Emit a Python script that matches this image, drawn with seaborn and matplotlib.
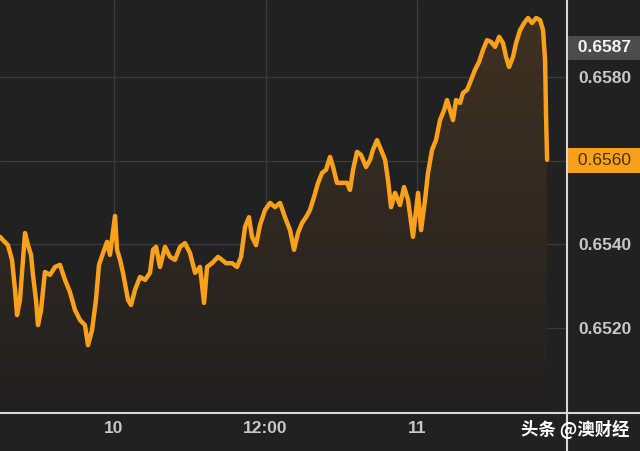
import numpy as np
import pandas as pd
import matplotlib.pyplot as plt
import seaborn as sns
from matplotlib.colors import LinearSegmentedColormap

# 时间(以10日0点为起点的小时数) 与 汇率
hours = [-9.03, -8.79, -8.40, -8.08, -7.84, -7.68, -7.45, -7.21, -7.05, -6.81,
         -6.57, -6.42, -6.18, -6.02, -5.78, -5.47, -5.07, -4.67, -4.28, -3.88,
         -3.49, -3.09, -2.69, -2.30, -2.06, -1.74, -1.43, -1.19, -0.87, -0.55,
         -0.32, 0.08, 0.24, 0.48, 0.71, 1.11, 1.35, 1.66, 2.06, 2.46,
         2.85, 3.09, 3.33, 3.64, 4.04, 4.44, 4.83, 5.23, 5.62, 6.02,
         6.42, 6.81, 7.13, 7.37, 7.76, 8.24, 8.55, 8.87, 9.35, 9.74,
         10.06, 10.38, 10.69, 10.93, 11.25, 11.56, 11.96, 12.36, 12.75, 13.15,
         13.54, 13.94, 14.26, 14.57, 14.89, 15.21, 15.52, 15.84, 16.16, 16.48,
         16.79, 17.11, 17.35, 17.66, 18.06, 18.46, 18.69, 18.93, 19.25, 19.56,
         19.96, 20.28, 20.51, 20.83, 21.15, 21.47, 21.70, 21.94, 22.26, 22.65,
         22.97, 23.29, 23.68, 24.08, 24.32, 24.63, 24.87, 25.19, 25.50, 25.82,
         26.14, 26.38, 26.61, 26.85, 27.09, 27.41, 27.64, 27.96, 28.28, 28.59,
         28.91, 29.23, 29.54, 29.86, 30.18, 30.50, 30.81, 31.05, 31.29, 31.60,
         31.84, 32.16, 32.48, 32.79, 33.11, 33.43, 33.74, 33.98, 34.14, 34.22,
         34.30]
price = [0.65418, 0.65410, 0.65398, 0.65363, 0.65291, 0.65231, 0.65267, 0.65363, 0.65427, 0.65398,
         0.65375, 0.65327, 0.65267, 0.65207, 0.65243, 0.65334, 0.65327, 0.65346, 0.65351, 0.65315,
         0.65286, 0.65243, 0.65219, 0.65207, 0.65159, 0.65195, 0.65267, 0.65351, 0.65379, 0.65406,
         0.65375, 0.65468, 0.65387, 0.65363, 0.65332, 0.65267, 0.65255, 0.65291, 0.65322, 0.65315,
         0.65332, 0.65387, 0.65394, 0.65346, 0.65394, 0.65370, 0.65363, 0.65394, 0.65403, 0.65379,
         0.65332, 0.65346, 0.65260, 0.65346, 0.65355, 0.65370, 0.65363, 0.65355, 0.65355, 0.65346,
         0.65370, 0.65442, 0.65465, 0.65418, 0.65398, 0.65446, 0.65482, 0.65499, 0.65489, 0.65499,
         0.65465, 0.65434, 0.65387, 0.65427, 0.65451, 0.65465, 0.65482, 0.65513, 0.65547, 0.65571,
         0.65578, 0.65609, 0.65585, 0.65547, 0.65547, 0.65547, 0.65530, 0.65578, 0.65621, 0.65614,
         0.65585, 0.65602, 0.65626, 0.65649, 0.65626, 0.65602, 0.65554, 0.65489, 0.65523, 0.65494,
         0.65537, 0.65506, 0.65418, 0.65523, 0.65434, 0.65506, 0.65571, 0.65626, 0.65649, 0.65697,
         0.65721, 0.65745, 0.65721, 0.65697, 0.65745, 0.65738, 0.65762, 0.65769, 0.65793, 0.65817,
         0.65836, 0.65865, 0.65888, 0.65884, 0.65872, 0.65896, 0.65881, 0.65848, 0.65824, 0.65848,
         0.65881, 0.65912, 0.65929, 0.65941, 0.65929, 0.65941, 0.65936, 0.65912, 0.65841, 0.65704,
         0.65602]

x_ticks = [0, 12, 24]
x_labels = ['10', '12:00', '11']
y_ticks = [0.6520, 0.6540, 0.6560, 0.6580]
last_price = 0.6560
high_price = 0.6587

df = pd.DataFrame({'hours': hours, 'price': price})

bg = '#212121'
orange = '#f9a11b'
sns.set_theme(style='dark', rc={'axes.facecolor': bg, 'figure.facecolor': bg})
plt.rcParams['font.family'] = ['Liberation Sans', 'Noto Sans CJK SC', 'DejaVu Sans']

fig = plt.figure(figsize=(6.4, 4.51), dpi=100)
ax = fig.add_axes([0, 0.0843, 0.886, 0.9157])

xlim = (-9.03, 35.88)
ylim = (0.64997, 0.65984)

# 渐变填充
fill = ax.fill_between(df['hours'], df['price'], ylim[0], color='none', lw=0)
cmap = LinearSegmentedColormap.from_list('g', ['#212020', '#413222'])
grad = np.linspace(0, 1, 256).reshape(-1, 1)
im = ax.imshow(grad, cmap=cmap, aspect='auto', origin='lower',
               extent=[xlim[0], xlim[1], ylim[0], ylim[1]], zorder=1)
im.set_clip_path(fill.get_paths()[0], transform=ax.transData)

sns.lineplot(data=df, x='hours', y='price', ax=ax, color=orange, lw=3.2, zorder=3)

ax.set_xlim(*xlim)
ax.set_ylim(*ylim)
ax.set_xlabel('')
ax.set_ylabel('')
ax.set_xticks(x_ticks)
ax.set_xticklabels(x_labels)
ax.set_yticks(y_ticks)
# 0.6560 的刻度文字被当前价标签盖住
ax.set_yticklabels(['' if v == last_price else f'{v:.4f}' for v in y_ticks])
ax.yaxis.tick_right()
ax.grid(True, color='#3a3a3a', lw=1)
ax.set_axisbelow(True)
ax.tick_params(axis='both', length=0, colors='#c8c8c8', labelsize=12.5)
for lab in ax.get_xticklabels() + ax.get_yticklabels():
    lab.set_fontweight('bold')
ax.tick_params(axis='y', pad=8)
ax.tick_params(axis='x', pad=6)
for s in ax.spines.values():
    s.set_visible(False)

# 轴线
ax.plot([0, 1.13], [0, 0], transform=ax.transAxes, color='#d8d8d8', lw=1.5, clip_on=False)
ax.plot([1, 1], [-0.1, 1], transform=ax.transAxes, color='#d8d8d8', lw=1.5, clip_on=False)

# 价格标签
ax.annotate(f' {last_price:.4f} ', xy=(1, last_price), xycoords=('axes fraction', 'data'),
            xytext=(4, 0), textcoords='offset points', va='center', ha='left',
            fontsize=12.5, color='#4a300a',
            bbox=dict(boxstyle='square,pad=0.27', fc=orange, ec='none'))
ax.annotate(f' {high_price:.4f} ', xy=(1, high_price), xycoords=('axes fraction', 'data'),
            xytext=(4, 0), textcoords='offset points', va='center', ha='left',
            fontsize=12.5, color='#f4f4f4', fontweight='bold',
            bbox=dict(boxstyle='square,pad=0.27', fc='#4c4c4c', ec='none'))

fig.text(0.898, 0.047, '头条 @澳财经', ha='center', va='center', fontsize=12.5,
         color='white', fontweight='bold', family=['Noto Sans CJK SC', 'DejaVu Sans'])

fig.savefig('out.png', dpi=100, facecolor=bg)
